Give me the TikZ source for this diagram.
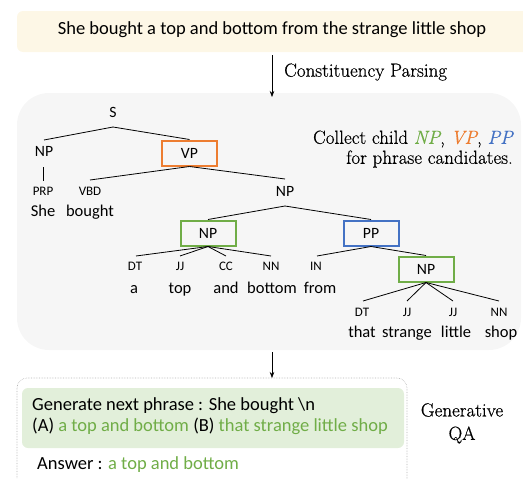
\documentclass[tikz,border=0pt]{standalone}
\usepackage{fontspec}
\setsansfont{Carlito}
\newfontfamily\serfont{Latin Modern Roman}[FakeBold=0.5]
\usetikzlibrary{arrows.meta}
\definecolor{cream}{HTML}{FDF7E6}
\definecolor{panel}{HTML}{F6F6F6}
\definecolor{lgreen}{HTML}{E2EFDA}
\definecolor{cgreen}{HTML}{70AD47}
\definecolor{corange}{HTML}{ED7D31}
\definecolor{cblue}{HTML}{4472C4}
\tikzset{
  word/.style={font=\sffamily\fontsize{18.5}{21}\selectfont, inner sep=0pt, text height=1.55ex, text depth=0.45ex},
  tword/.style={font=\sffamily\fontsize{16.5}{19}\selectfont, inner sep=0pt, text height=1.55ex, text depth=0.45ex},
  tag/.style={font=\sffamily\fontsize{13}{15}\selectfont, inner sep=0pt, text height=1.55ex, text depth=0.1ex},
  lab/.style={font=\sffamily\fontsize{15.7}{18}\selectfont, inner sep=0pt, text height=1.55ex, text depth=0.1ex},
  pbox/.style={draw=#1, line width=2pt, minimum width=55pt, minimum height=25pt, inner sep=0pt, font=\sffamily\fontsize{15.7}{18}\selectfont},
  edge/.style={line width=0.8pt},
  arr/.style={line width=0.6pt, -{Stealth[length=6pt,width=4.5pt]}},
  ser/.style={font=\serfont\fontsize{19}{22}\selectfont, inner sep=0pt}
}
\begin{document}
\begin{tikzpicture}[x=1pt,y=-1pt]
\useasboundingbox (0,0) rectangle (523,479);
% top sentence box
\fill[cream, rounded corners=6pt] (17,11) rectangle (540,52);
\node[word] (sent) at (272,32) {She bought a top and bottom from the strange little shop};
% panel
\fill[panel, rounded corners=32pt] (17,93) rectangle (521,350);
\coordinate (a1s) at (272,55);
\coordinate (a1e) at (272,97);
\draw[arr] (a1s) -- (a1e);
\node[ser, anchor=west] (cp) at (284,72) {Constituency Parsing};
% collect text
\node[ser, anchor=east] (c1) at (513,139) {Collect child \textcolor{cgreen}{\itshape NP}, \textcolor{corange}{\itshape VP}, \textcolor{cblue}{\itshape PP}};
\node[ser, anchor=east] (c2) at (513,159) {for phrase candidates.};
% tree
\node[lab] (S) at (113,114) {S};
\node[lab] (NP1) at (44,153) {NP};
\node[pbox=corange] (VP) at (189.5,153) {VP};
\node[tag] (PRP) at (43,192) {PRP};
\node[tag] (VBD) at (90,192) {VBD};
\node[tword] (she) at (43,214) {She};
\node[tword] (bought) at (90,214) {bought};
\node[lab] (NP2) at (285,193) {NP};
\node[pbox=cgreen] (NP3) at (208,233) {NP};
\node[pbox=cblue] (PP) at (371,233) {PP};
\node[tag] (DT1) at (135,267) {DT};
\node[tag] (JJ1) at (180,267) {JJ};
\node[tag] (CC1) at (226,267) {CC};
\node[tag] (NN1) at (271,267) {NN};
\node[tag] (IN1) at (316,267) {IN};
\node[tword] (wa) at (134,291) {a};
\node[tword] (wtop) at (180,291) {top};
\node[tword] (wand) at (226,291) {and};
\node[tword] (wbottom) at (272,291) {bottom};
\node[tword] (wfrom) at (320,291) {from};
\node[pbox=cgreen] (NP4) at (426,269) {NP};
\node[tag] (DT2) at (362,313) {DT};
\node[tag] (JJ2) at (407,313) {JJ};
\node[tag] (JJ3) at (453,313) {JJ};
\node[tag] (NN2) at (499,313) {NN};
\node[tword] (wthat) at (362,335) {that};
\node[tword] (wstrange) at (407,335) {strange};
\node[tword] (wlittle) at (456,335) {little};
\node[tword] (wshop) at (501,335) {shop};
% edges
\draw[edge] (113,127) -- (44,140);
\draw[edge] (113,127) -- (VP.north);
\draw[edge] (43,167) -- (43,181);
\draw[edge] (VP.south) -- (90,180);
\draw[edge] (VP.south) -- (285,179);
\draw[edge] (285,206) -- (NP3.north);
\draw[edge] (285,206) -- (PP.north);
\draw[edge] (NP3.south) -- (136,256);
\draw[edge] (NP3.south) -- (180,256);
\draw[edge] (NP3.south) -- (226,256);
\draw[edge] (NP3.south) -- (271,256);
\draw[edge] (PP.south) -- (317,256);
\draw[edge] (PP.south) -- (NP4.north);
\draw[edge] (NP4.south) -- (363,301);
\draw[edge] (NP4.south) -- (407,301);
\draw[edge] (NP4.south) -- (453,301);
\draw[edge] (NP4.south) -- (499,301);
% QA part
\draw[gray!60, densely dotted, line width=0.6pt, rounded corners=10pt] (17,378) rectangle (407,495);
\coordinate (a2s) at (272,352);
\coordinate (a2e) at (272,378);
\draw[arr] (a2s) -- (a2e);
\fill[lgreen, rounded corners=6pt] (22,388) rectangle (404,448);
\node[word, anchor=west] (q1) at (32,408) {Generate next phrase : She bought \textbackslash n};
\node[word, anchor=west] (q2) at (32,429) {(A) \textcolor{cgreen}{a top and bottom} (B) \textcolor{cgreen}{that strange little shop}};
\node[word, anchor=west] (ans) at (37,467) {Answer : \textcolor{cgreen}{a top and bottom}};
\node[ser] (g1) at (462,410) {Generative};
\node[ser] (g2) at (462,435) {QA};
\end{tikzpicture}
\end{document}
